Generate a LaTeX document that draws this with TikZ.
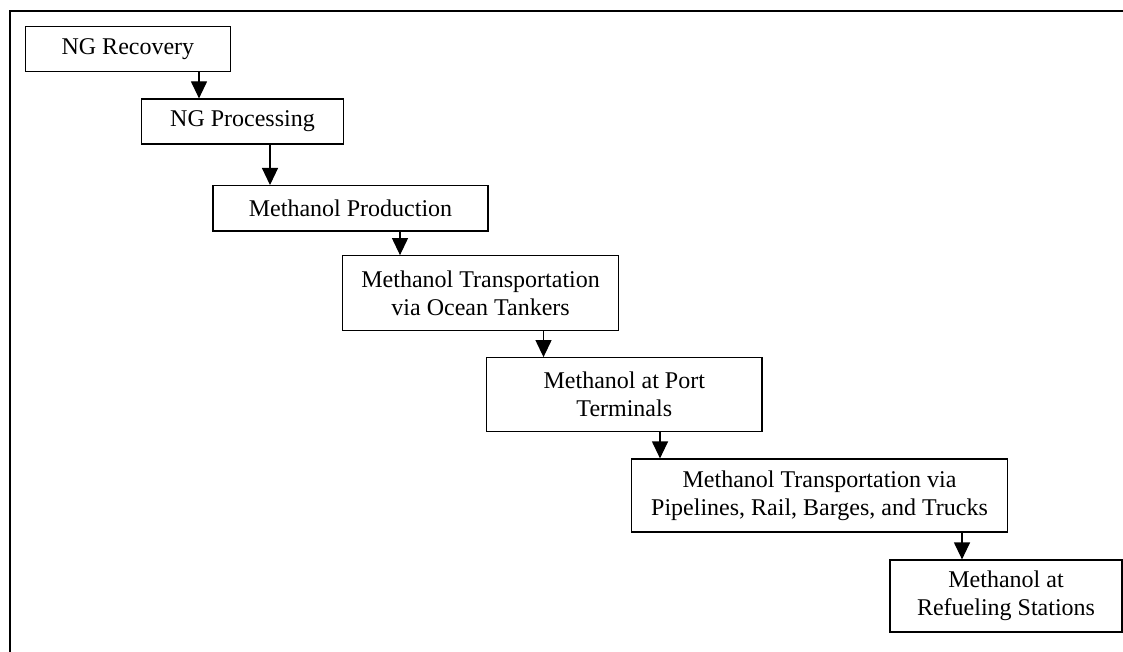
\documentclass[tikz,border=0pt]{standalone}
\usepackage{fontspec}
\setmainfont{Liberation Serif}
\usetikzlibrary{arrows.meta, positioning}

\begin{document}
\begin{tikzpicture}[
  x=0.5pt, y=-0.5pt,
  stepbox/.style={
    rectangle,
    draw=black,
    line width=0.6pt,
    inner sep=0pt,
    align=center,
    font=\fontsize{12}{14}\selectfont
  },
  flow/.style={
    line width=0.6pt,
    -{Triangle[length=8.5pt,width=8pt]}
  },
  frame/.style={
    line width=1pt
  }
]
  \useasboundingbox (0,0) rectangle (1123,652);

  % outer frame, only top and left edges visible
  \draw[frame] (1130,11.3) -- (10.3,11.3) -- (10.3,660);

  % process boxes
  \node[stepbox, minimum width=102.2pt, minimum height=22.5pt] (recov) at (127.9,49.2) {NG Recovery};
  \node[stepbox, minimum width=100.8pt, minimum height=22.5pt] (proc) at (242.5,121.5) {NG Processing};
  \node[stepbox, minimum width=137.5pt, minimum height=22.7pt] (prod) at (350.5,208.3) {Methanol Production};
  \node[stepbox, minimum width=137.9pt, minimum height=37.2pt] (ocean) at (480.6,292.9) {Methanol Transportation\\via Ocean Tankers};
  \node[stepbox, minimum width=137.7pt, minimum height=37pt] (port) at (624.3,394.7) {Methanol at Port\\Terminals};
  \node[stepbox, minimum width=187.8pt, minimum height=36.5pt] (inland) at (819.5,495.5) {Methanol Transportation via\\Pipelines, Rail, Barges, and Trucks};
  \node[stepbox, minimum width=116pt, minimum height=36pt] (station) at (1006,596) {Methanol at\\Refueling Stations};

  % arrow columns
  \coordinate (c1) at (199,0);
  \coordinate (c2) at (270,0);
  \coordinate (c3) at (400,0);
  \coordinate (c4) at (543.5,0);
  \coordinate (c5) at (660,0);
  \coordinate (c6) at (962,0);

  \draw[flow] (c1 |- recov.south) -- (c1 |- proc.north);
  \draw[flow] (c2 |- proc.south) -- (c2 |- prod.north);
  \draw[flow] (c3 |- prod.south) -- (c3 |- ocean.north);
  \draw[flow] (c4 |- ocean.south) -- (c4 |- port.north);
  \draw[flow] (c5 |- port.south) -- (c5 |- inland.north);
  \draw[flow] (c6 |- inland.south) -- (c6 |- station.north);
\end{tikzpicture}
\end{document}
